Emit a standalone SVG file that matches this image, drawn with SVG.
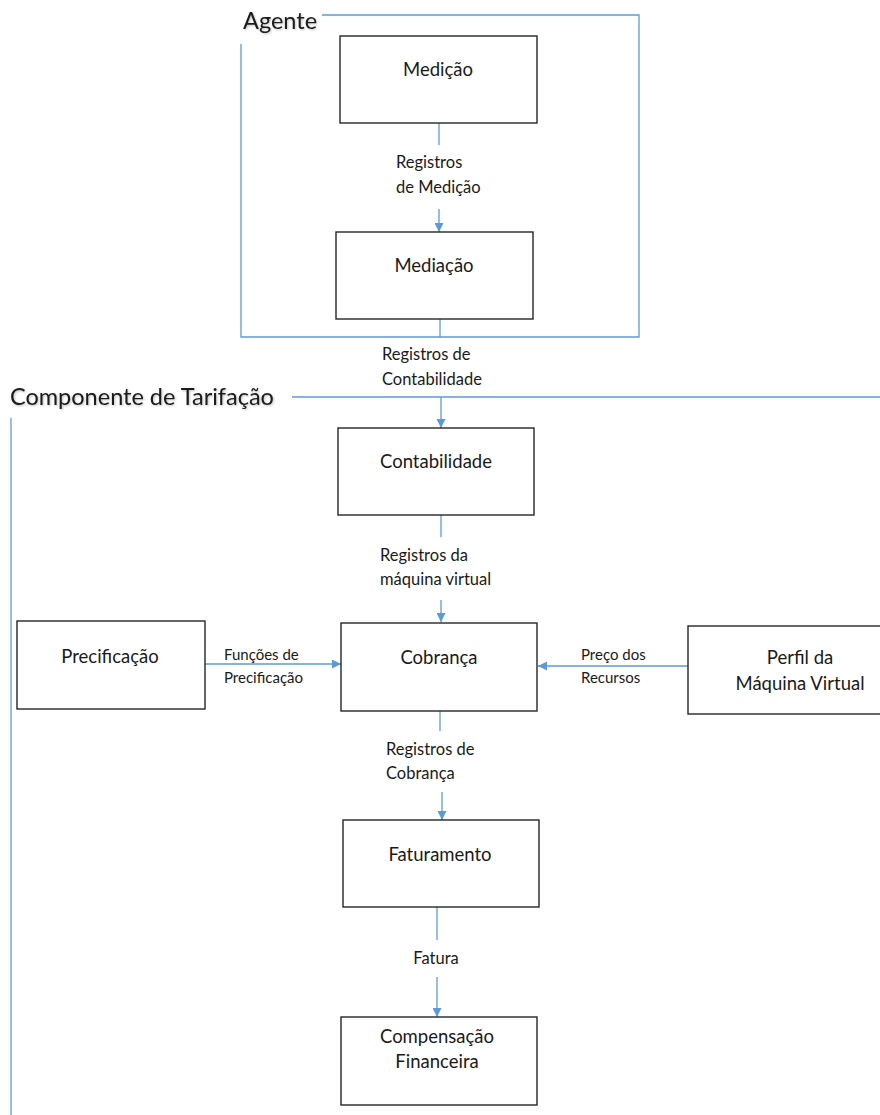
<svg xmlns="http://www.w3.org/2000/svg" width="880" height="1115" viewBox="0 0 880 1115">
  <style>
    .box { fill: #ffffff; stroke: #262626; stroke-width: 1.4; }
    .frame { fill: none; stroke: #5b9bd5; stroke-width: 1.3; }
    .wire { fill: none; stroke: #5b9bd5; stroke-width: 1.3; }
    .node { font-family: Lato, "Open Sans", "Liberation Sans", sans-serif; font-size: 18.5px; fill: #1a1a1a; text-anchor: middle; }
    .lbl { font-family: Lato, "Open Sans", "Liberation Sans", sans-serif; font-size: 16.5px; fill: #1a1a1a; }
    .side { font-size: 15px; }
    .title { font-family: Lato, "Open Sans", "Liberation Sans", sans-serif; font-size: 23.5px; fill: #1a1a1a; filter: url(#soft); }
  </style>
  <defs>
    <marker id="arrow" viewBox="0 0 10 10" refX="10" refY="5" markerWidth="9" markerHeight="9" markerUnits="userSpaceOnUse" orient="auto">
      <path d="M0,0 L10,5 L0,10 z" fill="#5b9bd5"/>
    </marker>
    <filter id="soft" x="-5%" y="-20%" width="110%" height="150%">
      <feDropShadow dx="1" dy="1" stdDeviation="0.8" flood-color="#000000" flood-opacity="0.25"/>
    </filter>
  </defs>
  <rect width="880" height="1115" fill="#ffffff"/>

  <!-- Agent frame -->
  <g id="frame-agente">
    <polyline class="frame" points="322,15 639,15 639,337 241,337 241,44"/>
    <text class="title" x="243" y="29">Agente</text>
  </g>

  <!-- Charging component frame -->
  <g id="frame-tarifacao">
    <line class="frame" x1="292" y1="397" x2="880" y2="397"/>
    <line class="frame" x1="11" y1="418" x2="11" y2="1115"/>
    <text class="title" x="10" y="405">Componente de Tarifação</text>
  </g>

  <!-- Connectors -->
  <g id="connectors">
    <line class="wire" x1="439" y1="123" x2="439" y2="145"/>
    <line class="wire" x1="439" y1="209" x2="439" y2="232" marker-end="url(#arrow)"/>
    <line class="wire" x1="440" y1="319" x2="440" y2="337"/>
    <line class="wire" x1="441" y1="397" x2="441" y2="428" marker-end="url(#arrow)"/>
    <line class="wire" x1="441" y1="515" x2="441" y2="537"/>
    <line class="wire" x1="441" y1="600" x2="441" y2="622" marker-end="url(#arrow)"/>
    <line class="wire" x1="205" y1="664" x2="341" y2="664" marker-end="url(#arrow)"/>
    <line class="wire" x1="688" y1="666" x2="538" y2="666" marker-end="url(#arrow)"/>
    <line class="wire" x1="440" y1="711" x2="440" y2="731"/>
    <line class="wire" x1="442" y1="792" x2="442" y2="820" marker-end="url(#arrow)"/>
    <line class="wire" x1="437" y1="907" x2="437" y2="940"/>
    <line class="wire" x1="437" y1="977" x2="437" y2="1017" marker-end="url(#arrow)"/>

    <text class="lbl" x="396" y="168">Registros</text>
    <text class="lbl" x="396" y="193">de Medição</text>
    <text class="lbl" x="382" y="360">Registros de</text>
    <text class="lbl" x="382" y="385">Contabilidade</text>
    <text class="lbl" x="380" y="561">Registros da</text>
    <text class="lbl" x="380" y="585">máquina virtual</text>
    <text class="lbl side" x="224" y="660">Funções de</text>
    <text class="lbl side" x="224" y="683">Precificação</text>
    <text class="lbl side" x="581" y="660">Preço dos</text>
    <text class="lbl side" x="581" y="683">Recursos</text>
    <text class="lbl" x="386" y="755">Registros de</text>
    <text class="lbl" x="386" y="779">Cobrança</text>
    <text class="lbl" x="436" y="964" text-anchor="middle">Fatura</text>
  </g>

  <!-- Nodes -->
  <g id="medicao">
    <rect class="box" x="340" y="36" width="197" height="87"/>
    <text class="node" x="438" y="76">Medição</text>
  </g>
  <g id="mediacao">
    <rect class="box" x="336" y="232" width="197" height="87"/>
    <text class="node" x="434" y="272">Mediação</text>
  </g>
  <g id="contabilidade">
    <rect class="box" x="338" y="428" width="196" height="87"/>
    <text class="node" x="436" y="468">Contabilidade</text>
  </g>
  <g id="precificacao">
    <rect class="box" x="17" y="621" width="188" height="88"/>
    <text class="node" x="110" y="663">Precificação</text>
  </g>
  <g id="cobranca">
    <rect class="box" x="341" y="623" width="196" height="88"/>
    <text class="node" x="439" y="664">Cobrança</text>
  </g>
  <g id="perfil">
    <rect class="box" x="688" y="626" width="194" height="88"/>
    <text class="node" x="800" y="664">Perfil da</text>
    <text class="node" x="800" y="690">Máquina Virtual</text>
  </g>
  <g id="faturamento">
    <rect class="box" x="343" y="820" width="196" height="87"/>
    <text class="node" x="440" y="861">Faturamento</text>
  </g>
  <g id="compensacao">
    <rect class="box" x="341" y="1017" width="196" height="88"/>
    <text class="node" x="437" y="1043">Compensação</text>
    <text class="node" x="437" y="1068">Financeira</text>
  </g>
</svg>
